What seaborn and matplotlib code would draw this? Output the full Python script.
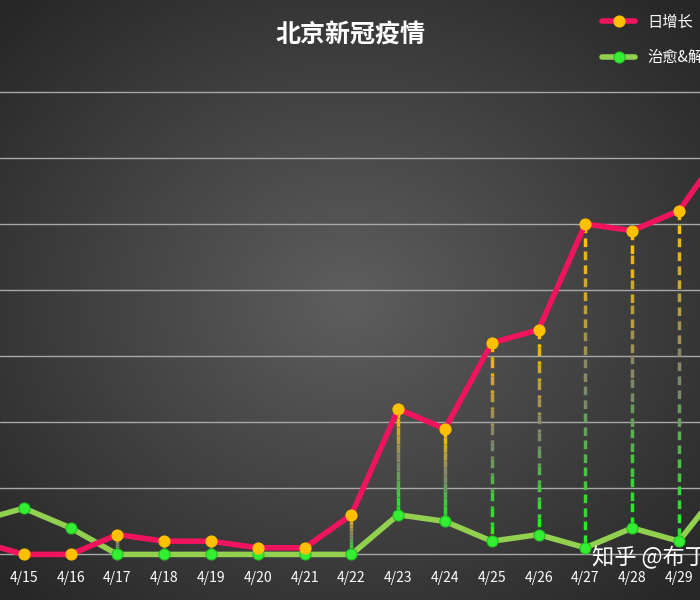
import numpy as np
import matplotlib
matplotlib.use("Agg")
import matplotlib.pyplot as plt
import seaborn as sns

# === DATA ===
dates = ['4/14', '4/15', '4/16', '4/17', '4/18', '4/19', '4/20', '4/21', '4/22',
         '4/23', '4/24', '4/25', '4/26', '4/27', '4/28', '4/29', '4/30']
daily_new = [2, 0, 0, 3, 2, 2, 1, 1, 6, 22, 19, 32, 34, 50, 49, 52, 62]
recovered = [5, 7, 4, 0, 0, 0, 0, 0, 0, 6, 5, 2, 3, 1, 4, 2, 11]

sns.set_theme(style='dark')
plt.rcParams['font.family'] = ['Noto Sans CJK SC', 'DejaVu Sans']

fig = plt.figure(figsize=(7, 6), dpi=100)
ax = fig.add_axes([0, 0, 1, 1])
x = np.arange(len(dates))

# radial background
xx, yy = np.meshgrid(np.linspace(-1, 1, 300), np.linspace(-1, 1, 300))
r = np.sqrt(xx**2 + yy**2)
bg = np.clip(1 - r / 1.4, 0, 1)
ax.imshow(bg, cmap=matplotlib.colors.LinearSegmentedColormap.from_list('g', ['#262626', '#5e5e5e']),
          extent=[0, 1, 0, 1], transform=ax.transAxes, aspect='auto', zorder=0)

for g in range(0, 80, 10):
    ax.axhline(g, color='#a8a8a8', lw=1, zorder=1)

# dashed drop lines, yellow fading to green
cmap = matplotlib.colors.LinearSegmentedColormap.from_list('d', ['#ffc000', '#808070', '#22ee22'])
for i in range(len(dates)):
    top, bot = daily_new[i], recovered[i]
    if top - bot < 1:
        continue
    n = 12
    ys = np.linspace(top, bot, n + 1)
    for k in range(n):
        ax.plot([x[i], x[i]], [ys[k], ys[k + 1]], color=cmap(k / (n - 1)), lw=2.5,
                ls=(0, (2.5, 1.5)), zorder=2)

sns.lineplot(x=x, y=daily_new, ax=ax, color='#f0145f', lw=4, marker='o', markersize=8,
             markerfacecolor='#ffc000', markeredgecolor='#ffc000', label='日增长', zorder=4)
sns.lineplot(x=x, y=recovered, ax=ax, color='#92d050', lw=4, marker='o', markersize=8,
             markerfacecolor='#33ee33', markeredgecolor='#22bb22', label='治愈&解除隔离', zorder=3)

ax.set_xlim(0.49, 15.45)
ax.set_ylim(-6.9, 83.9)
ax.set_xticks([])
ax.set_yticks([])
for s in ax.spines.values():
    s.set_visible(False)

for i, d in enumerate(dates[1:-1], start=1):
    ax.text(x[i], -3.5, d, color='white', fontsize=10, ha='center', va='center', zorder=5)

fig.text(0.5, 0.94, '北京新冠疫情', color='white', fontsize=18, fontweight='bold',
         ha='center', va='center')
ax.legend(loc='upper left', bbox_to_anchor=(0.84, 1.0), frameon=False, labelcolor='white',
          fontsize=11, handlelength=2.2, labelspacing=1.2)
fig.text(0.845, 0.07, '知乎 @布丁', color='white', fontsize=16, ha='left', va='center', zorder=6)

fig.savefig('out.png', dpi=100)
